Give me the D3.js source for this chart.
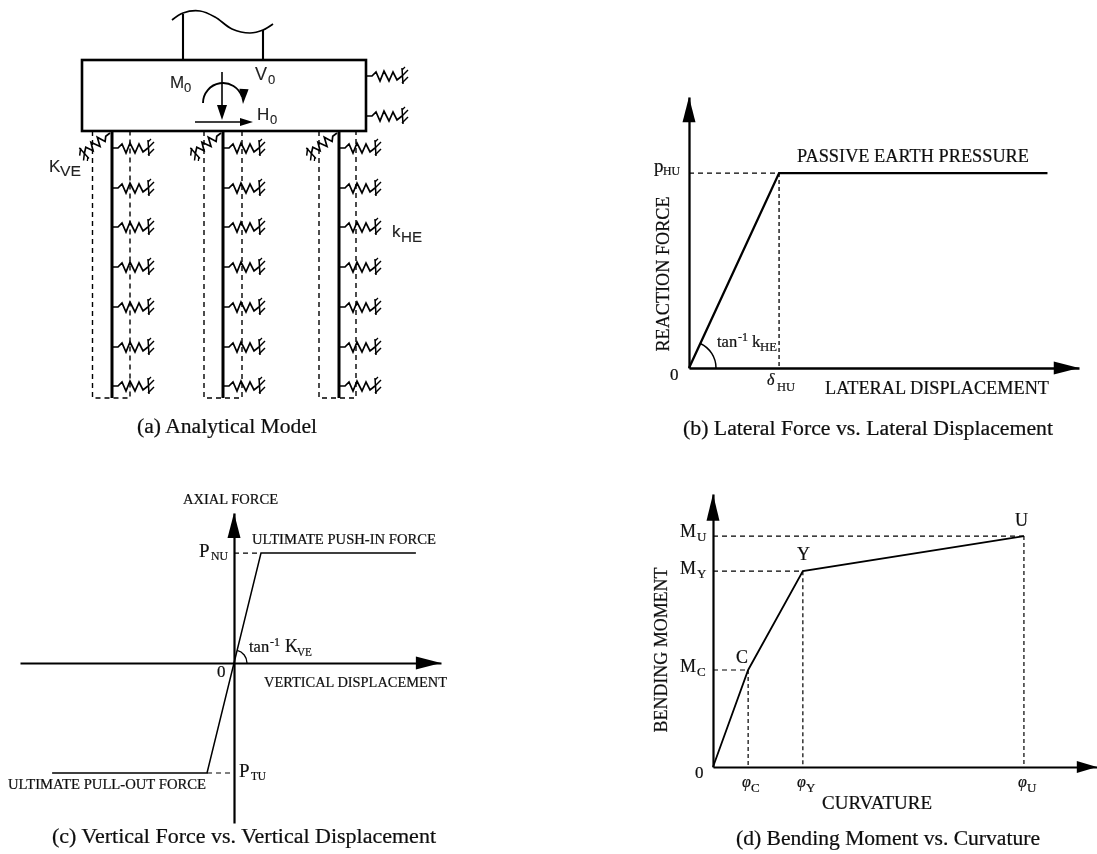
<!DOCTYPE html>
<html>
<head>
<meta charset="utf-8">
<script src="https://cdnjs.cloudflare.com/ajax/libs/d3/7.8.5/d3.min.js"></script>
<style>
html,body{margin:0;padding:0;background:#fff;}
text{font-family:"Liberation Serif",serif;fill:#111;stroke:#111;stroke-width:0.22;}
.sans text{font-family:"Liberation Sans",sans-serif;stroke-width:0.1;fill:#222;}
.axis .domain{stroke:#000;}
</style>
</head>
<body>
<div id="chart"></div>
<script>
// (a) analytical model, lengths measured from cap left edge / cap underside
var capWidth = 284, pileDepth = 267, capDepth = -71;
var pileCenters = [30, 141, 257];
var dashLeft = [10.5, 122, 237];
var dashRight = [48, 160, 274];
var springDepths = [17, 57, 96, 136, 176, 216, 255];
var capSpringDepths = [-55, -15];
var columnX = [101, 181];
var columnTop = [-117, -101];
var deckX = [90, 101, 118, 133, 150, 168, 181, 191];
var deckY = [-111, -118, -120, -114, -102, -98, -101, -107];
var springU = [0, 6, 10, 14, 18, 23, 27, 31, 36];
var springV = [0, 0, -4, 5, -5, 5, -4, 4, 0];

// (b) lateral force vs lateral displacement
var lateralDisp = [0, 1, 3.98];
var lateralForce = [0, 1, 1];

// (c) vertical force vs vertical displacement
var verticalDisp = [-6.74, -1, 1, 6.74];
var verticalForce = [-1, -1, 1, 1];

// (d) bending moment vs curvature
var curvature = [0, 0.113, 0.289, 1];
var moment = [0, 0.42, 0.848, 1];

var svg = d3.select("#chart").append("svg")
  .attr("width", 1097).attr("height", 854)
  .style("display", "block");

svg.append("defs").append("filter").attr("id", "scan")
  .append("feGaussianBlur").attr("stdDeviation", 0.4);

var root = svg.append("g").attr("filter", "url(#scan)");

var line = d3.line();

function path(g, pts, w, dash) {
  return g.append("path")
    .attr("d", line(pts))
    .attr("fill", "none")
    .attr("stroke", "#000")
    .attr("stroke-width", w)
    .attr("stroke-linejoin", "miter")
    .attr("stroke-dasharray", dash || null);
}

function head(g, tip, base, hw) {
  var dx = tip[0] - base[0], dy = tip[1] - base[1];
  var len = Math.sqrt(dx * dx + dy * dy), nx = -dy / len, ny = dx / len;
  g.append("path")
    .attr("d", line([tip, [base[0] + nx * hw, base[1] + ny * hw], [base[0] - nx * hw, base[1] - ny * hw]]) + "Z")
    .attr("fill", "#000");
}

// text, width is forced when given
function label(g, x, y, str, size, width) {
  var t = g.append("text").attr("x", x).attr("y", y).attr("font-size", size).text(str);
  if (width) t.attr("textLength", width).attr("lengthAdjust", "spacingAndGlyphs");
  return t;
}

function vlabel(g, x, yMid, str, size, width) {
  g.append("text")
    .attr("transform", "translate(" + x + "," + yMid + ") rotate(-90)")
    .attr("text-anchor", "middle")
    .attr("font-size", size)
    .attr("textLength", width)
    .attr("lengthAdjust", "spacingAndGlyphs")
    .text(str);
}

function axes(g, x, y, w) {
  g.append("g").attr("class", "axis")
    .attr("transform", "translate(0," + y(0) + ")")
    .call(d3.axisBottom(x).tickValues([]).tickSize(0))
    .select(".domain").attr("stroke-width", w);
  g.append("g").attr("class", "axis")
    .attr("transform", "translate(" + x(0) + ",0)")
    .call(d3.axisLeft(y).tickValues([]).tickSize(0))
    .select(".domain").attr("stroke-width", w);
}

function angleArc(g, cx, cy, r, a0, a1, w) {
  g.append("path")
    .attr("transform", "translate(" + cx + "," + cy + ")")
    .attr("d", d3.arc().innerRadius(r).outerRadius(r).startAngle(a0).endAngle(a1)())
    .attr("fill", "none")
    .attr("stroke", "#000")
    .attr("stroke-width", w);
}

/* ---------- (a) ---------- */
var a = root.append("g");
var aX = d3.scaleLinear().domain([0, capWidth]).range([82, 366]);
var aY = d3.scaleLinear().domain([0, pileDepth]).range([131, 398]);

a.append("rect")
  .attr("x", aX(0)).attr("y", aY(capDepth))
  .attr("width", aX(capWidth) - aX(0)).attr("height", aY(0) - aY(capDepth))
  .attr("fill", "none").attr("stroke", "#000").attr("stroke-width", 2.6);

columnX.forEach(function (c, i) {
  path(a, [[aX(c), aY(capDepth)], [aX(c), aY(columnTop[i])]], 2.1);
});

a.append("path")
  .attr("d", d3.line().curve(d3.curveCatmullRom)
    .x(function (d, i) { return aX(d); })
    .y(function (d, i) { return aY(deckY[i]); })(deckX))
  .attr("fill", "none").attr("stroke", "#000").attr("stroke-width", 1.7);

function spring(g, x0, y0, rot, k) {
  var s = g.append("g")
    .attr("transform", "translate(" + x0 + "," + y0 + ") rotate(" + rot + ") scale(" + k + ")");
  path(s, d3.zip(springU, springV), 1.7 / k);
  var end = springU[springU.length - 1];
  path(s, [[end, -8], [end + 1, 8]], 1.5 / k);
  [0, 7].forEach(function (v) {
    path(s, [[end, v], [end + 6, v - 6]], 1.5 / k);
  });
  path(s, [[end, -6], [end + 3, -9]], 1.3 / k);
}

pileCenters.forEach(function (p, i) {
  path(a, [[aX(dashLeft[i]), aY(0)], [aX(dashLeft[i]), aY(pileDepth)], [aX(dashRight[i]), aY(pileDepth)], [aX(dashRight[i]), aY(0)]], 1.4, "5,4");
  path(a, [[aX(p), aY(0)], [aX(p), aY(pileDepth)]], 3);
  springDepths.forEach(function (d) {
    spring(a, aX(p), aY(d), 0, 1);
  });
  spring(a, aX(p) - 2, aY(2), 142, 0.9);
});

capSpringDepths.forEach(function (d) {
  spring(a, aX(capWidth), aY(d), 0, 1);
});

// loads on the cap
path(a, [[222, 72], [222, 108]], 1.6);
head(a, [222, 120], [222, 105], 5);
path(a, [[195, 122], [243, 122]], 1.7);
head(a, [253, 122], [240, 122], 4);
angleArc(a, 223, 103, 20, -Math.PI / 2, Math.PI * 0.4, 1.9);
head(a, [243, 104], [244, 89], 4.6);

var aText = a.append("g").attr("class", "sans");
label(aText, 170, 88, "M", 17);
label(aText, 184, 92, "0", 13);
label(aText, 255, 80, "V", 18);
label(aText, 268, 84, "0", 13);
label(aText, 257, 120, "H", 17);
label(aText, 270, 124, "0", 13);
label(aText, 49, 172, "K", 17);
label(aText, 60, 176, "VE", 15, 21);
label(aText, 392, 237, "k", 17);
label(aText, 401, 242, "HE", 15, 21);

label(root, 137, 433, "(a) Analytical Model", 20, 180);

/* ---------- (b) ---------- */
var b = root.append("g");
var bX = d3.scaleLinear().domain([0, 4.33]).range([689, 1079]);
var bY = d3.scaleLinear().domain([0, 1.39]).range([368, 97]);

axes(b, bX, bY, 2.3);
head(b, [bX(4.33), bY(0)], [bX(4.05), bY(0)], 6.5);
head(b, [bX(0), bY(1.39)], [bX(0), bY(1.26)], 6.5);

path(b, [[bX(0), bY(1)], [bX(1), bY(1)]], 1.3, "5,4");
path(b, [[bX(1), bY(1)], [bX(1), bY(0)]], 1.3, "4,3");
path(b, lateralDisp.map(function (d, i) { return [bX(d), bY(lateralForce[i])]; }), 2.3);
angleArc(b, bX(0), bY(0), 27, Math.atan2(bX(1) - bX(0), bY(0) - bY(1)), Math.PI / 2, 1.5);

label(b, 797, 162, "PASSIVE EARTH PRESSURE", 18, 232);
label(b, 654, 172, "p", 19);
label(b, 663, 175, "HU", 13, 17);
vlabel(b, 669, 274, "REACTION FORCE", 18.5, 155);
label(b, 670, 380, "0", 17);
label(b, 717, 347, "tan", 16.5);
label(b, 738, 341, "-1", 12);
label(b, 752, 347, "k", 17);
label(b, 760, 351, "HE", 13, 17);
label(b, 767, 385, "\u03b4", 16).attr("font-style", "italic");
label(b, 777, 391, "HU", 13, 18);
label(b, 825, 394, "LATERAL DISPLACEMENT", 18, 224);
label(root, 683, 435, "(b) Lateral Force vs. Lateral Displacement", 20, 370);

/* ---------- (c) ---------- */
var c = root.append("g");
var cX = d3.scaleLinear().domain([-7.93, 7.67]).range([20, 441]);
var cY = d3.scaleLinear().domain([-1.4545, 1.364]).range([823, 513]);

axes(c, cX, cY, 2.2);
head(c, [cX(7.67), cY(0)], [cX(6.74), cY(0)], 6.5);
head(c, [cX(0), cY(1.364)], [cX(0), cY(1.136)], 6.5);

path(c, [[cX(0), cY(1)], [cX(1), cY(1)]], 1.2, "5,4");
path(c, [[cX(-1), cY(-1)], [cX(0), cY(-1)]], 1.2, "5,4");
path(c, verticalDisp.map(function (d, i) { return [cX(d), cY(verticalForce[i])]; }), 1.5);
angleArc(c, cX(0), cY(0), 13, Math.atan2(cX(1) - cX(0), cY(0) - cY(1)), Math.PI / 2, 1.3);

label(c, 183, 504, "AXIAL FORCE", 15, 95);
label(c, 252, 544, "ULTIMATE PUSH-IN FORCE", 14.5, 184);
label(c, 199, 557, "P", 19);
label(c, 211, 560, "NU", 13, 17);
label(c, 249, 652, "tan", 16.5);
label(c, 270, 646, "-1", 12);
label(c, 285, 652, "K", 18);
label(c, 297, 656, "VE", 13, 15);
label(c, 217, 677, "0", 17);
label(c, 264, 687, "VERTICAL DISPLACEMENT", 15, 183);
label(c, 239, 777, "P", 19);
label(c, 251, 780, "TU", 13, 15);
label(c, 8, 789, "ULTIMATE PULL-OUT FORCE", 14.5, 198);
label(root, 52, 843, "(c) Vertical Force vs. Vertical Displacement", 20, 384);

/* ---------- (d) ---------- */
var e = root.append("g");
var dX = d3.scaleLinear().domain([0, 1.235]).range([713, 1097]);
var dY = d3.scaleLinear().domain([0, 1.182]).range([767, 494]);

axes(e, dX, dY, 2.2);
head(e, [dX(1.235), dY(0)], [dX(1.17), dY(0)], 6);
head(e, [dX(0), dY(1.182)], [dX(0), dY(1.066)], 6.5);

curvature.slice(1).forEach(function (d, i) {
  path(e, [[dX(0), dY(moment[i + 1])], [dX(d), dY(moment[i + 1])]], 1.2, "5,4");
  path(e, [[dX(d), dY(moment[i + 1])], [dX(d), dY(0)]], 1.2, "4,3");
});
path(e, curvature.map(function (d, i) { return [dX(d), dY(moment[i])]; }), 1.8);

vlabel(e, 667, 650, "BENDING MOMENT", 18, 165);
label(e, 680, 537, "M", 18);
label(e, 697, 541, "U", 13);
label(e, 680, 574, "M", 18);
label(e, 697, 578, "Y", 13);
label(e, 680, 672, "M", 18);
label(e, 697, 676, "C", 13);
label(e, 1015, 526, "U", 18);
label(e, 797, 560, "Y", 18);
label(e, 736, 663, "C", 18);
label(e, 695, 778, "0", 17);
label(e, 742, 787, "\u03c6", 16).attr("font-style", "italic");
label(e, 751, 792, "C", 13);
label(e, 797, 787, "\u03c6", 16).attr("font-style", "italic");
label(e, 806, 792, "Y", 13);
label(e, 1018, 787, "\u03c6", 16).attr("font-style", "italic");
label(e, 1027, 792, "U", 13);
label(e, 822, 809, "CURVATURE", 18, 110);
label(root, 736, 845, "(d) Bending Moment vs. Curvature", 20, 304);
</script>
</body>
</html>
